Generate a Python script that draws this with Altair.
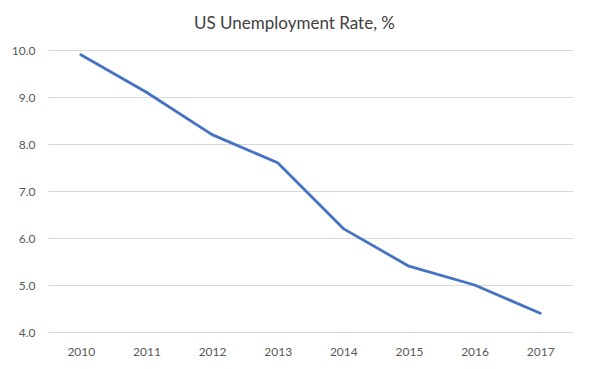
import altair as alt
import pandas as pd

years = ["2010", "2011", "2012", "2013", "2014", "2015", "2016", "2017"]
rates = [9.9, 9.1, 8.2, 7.6, 6.2, 5.4, 5.0, 4.4]
y_ticks = [4, 5, 6, 7, 8, 9, 10]
title_text = "US Unemployment Rate, %"

df = pd.DataFrame({"year": years, "rate": rates})

FONT = "Lato"
GREY = "#595959"

line = alt.Chart(df).mark_line(
    color="#4472C4", strokeWidth=2.8, strokeJoin="round", strokeCap="round"
).encode(
    x=alt.X("year:O", sort=years,
            scale=alt.Scale(type="point", padding=0.5),
            axis=alt.Axis(title=None, labelAngle=0, ticks=False, tickSize=0,
                          domain=False, grid=False, labelPadding=14,
                          labelFont=FONT, labelFontSize=12, labelColor=GREY)),
    y=alt.Y("rate:Q",
            scale=alt.Scale(domain=[4, 10], nice=False, zero=False),
            axis=alt.Axis(title=None, values=y_ticks, format=".1f", ticks=False,
                          tickSize=0, domain=False, grid=True, gridColor="#d9d9d9",
                          gridWidth=1, labelPadding=13,
                          labelFont=FONT, labelFontSize=12, labelColor=GREY)),
)

title = alt.Chart(pd.DataFrame({"t": [title_text]})).mark_text(
    font=FONT, fontSize=17, color="#404040", align="center", baseline="alphabetic"
).encode(
    text="t:N",
    x=alt.value(246.5),
    y=alt.value(-21),
)

chart = alt.layer(line, title).properties(
    width=525,
    height=282,
    autosize=alt.AutoSizeParams(type="none"),
    padding={"left": 40, "top": 42, "right": 8, "bottom": 29},
).configure_view(stroke=None)

chart.save("out.html", embed_options={"renderer": "svg", "actions": False})
